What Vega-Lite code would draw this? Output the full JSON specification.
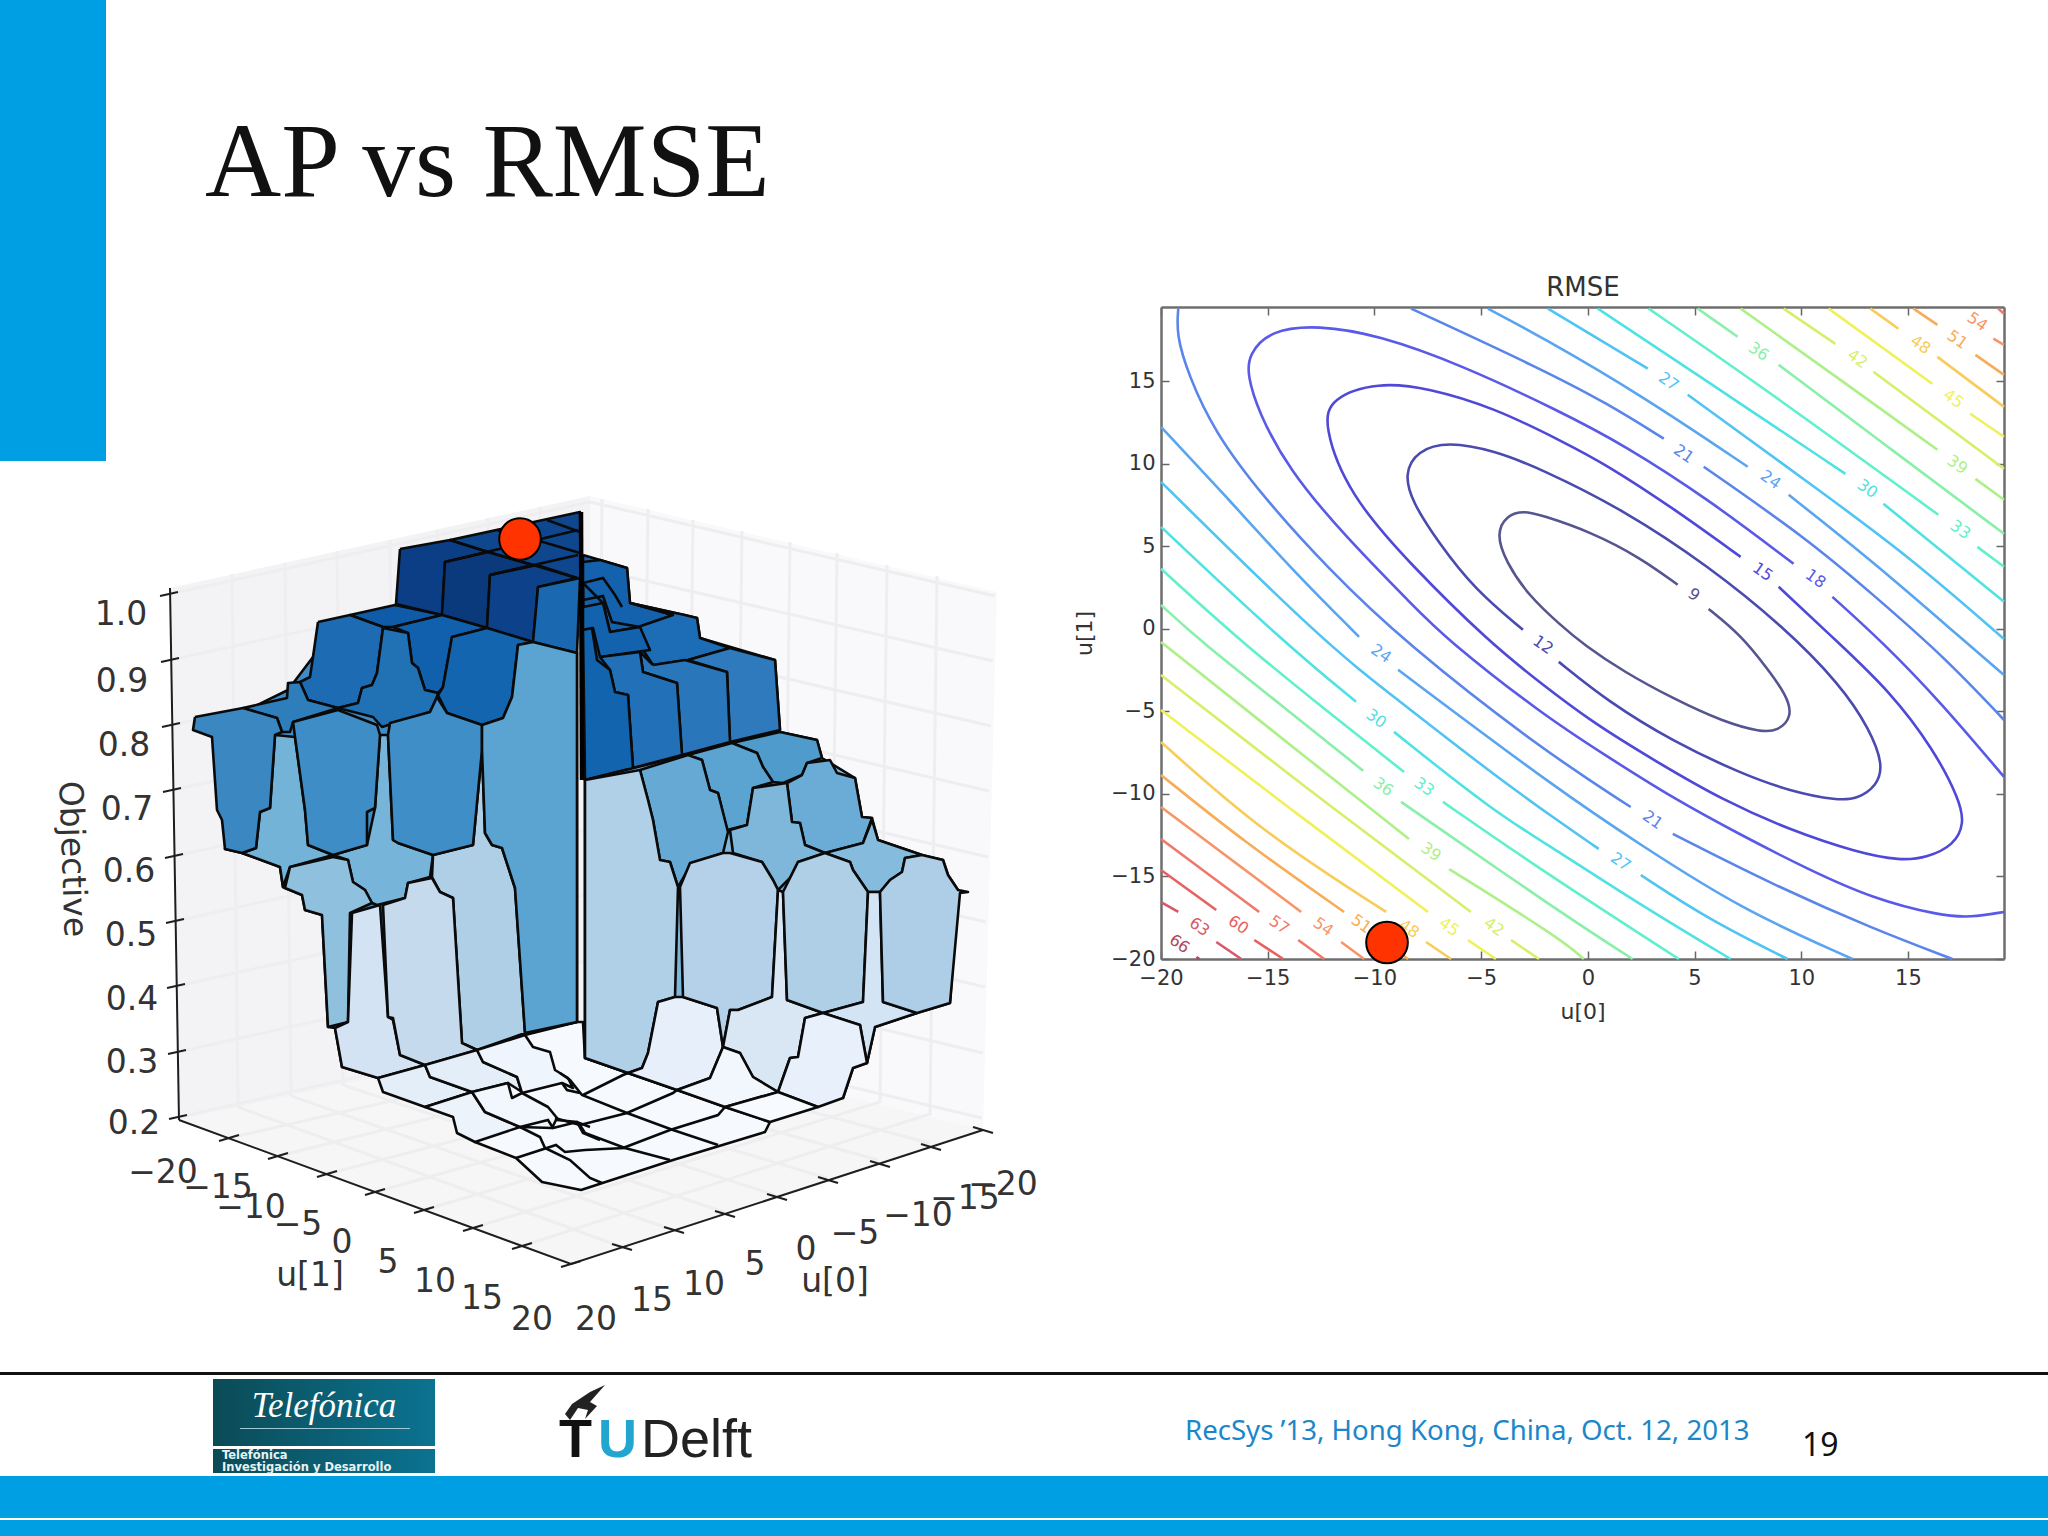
{"$schema":"https://vega.github.io/schema/vega-lite/v6.json","width":2048,"height":1536,"padding":0,"autosize":{"type":"none"},"background":"#ffffff","config":{"view":{"stroke":null},"font":"DejaVu Sans"},
"encoding":{"x":{"field":"x","type":"quantitative","scale":{"domain":[0,2048],"range":[0,2048]},"axis":null},"y":{"field":"y","type":"quantitative","scale":{"domain":[0,1536],"range":[0,1536]},"axis":null}},
"resolve":{"scale":{"x":"independent","y":"independent","color":"independent","fill":"independent"},"axis":{"x":"independent","y":"independent"}},
"layer":[
{"data":{"values":[{"x":0,"x2":106,"y":0,"y2":461},{"x":0,"x2":2048,"y":1476,"y2":1518},{"x":0,"x2":2048,"y":1520,"y2":1536}]},"mark":{"type":"rect","color":"#009ee2"},"encoding":{"x2":{"field":"x2"},"y2":{"field":"y2"}}},
{"data":{"values":[{"x":0,"x2":2048,"y":1372,"y2":1375}]},"mark":{"type":"rect","color":"#111111"},"encoding":{"x2":{"field":"x2"},"y2":{"field":"y2"}}},
{"data":{"values":[{"x":213,"x2":435,"y":1379,"y2":1446},{"x":213,"x2":435,"y":1449,"y2":1473}]},"mark":{"type":"rect","color":{"gradient":"linear","stops":[{"offset":0,"color":"#0b4b56"},{"offset":1,"color":"#0b7391"}]}},"encoding":{"x2":{"field":"x2"},"y2":{"field":"y2"}}},
{"data":{"values":[{"x":240,"x2":410,"y":1428,"y2":1429}]},"mark":{"type":"rect","color":"#9fc9d4"},"encoding":{"x2":{"field":"x2"},"y2":{"field":"y2"}}},
{"data":{"values":[{"t":"AP vs RMSE","x":205,"y":196}]},"mark":{"type":"text","font":"Liberation Serif","fontSize":105.5,"align":"left","baseline":"alphabetic","color":"#111111"},"encoding":{"text":{"field":"t"}}},
{"data":{"values":[{"t":"RecSys ’13, Hong Kong, China, Oct. 12, 2013","x":1185,"y":1440}]},"mark":{"type":"text","font":"Noto Sans","fontSize":27.6,"align":"left","baseline":"alphabetic","color":"#1b87c9"},"encoding":{"text":{"field":"t"}}},
{"data":{"values":[{"t":"19","x":1802,"y":1456}]},"mark":{"type":"text","font":"Noto Sans","fontSize":32,"align":"left","baseline":"alphabetic","color":"#111111"},"encoding":{"text":{"field":"t"}}},
{"data":{"values":[{"t":"Telefónica","x":324,"y":1417}]},"mark":{"type":"text","font":"Liberation Serif","fontSize":35,"fontStyle":"italic","align":"center","baseline":"alphabetic","color":"#ffffff"},"encoding":{"text":{"field":"t"}}},
{"data":{"values":[{"t":"Telefónica","x":222,"y":1459},{"t":"Investigación y Desarrollo","x":222,"y":1471}]},"mark":{"type":"text","font":"DejaVu Sans","fontWeight":"bold","fontSize":11.5,"align":"left","baseline":"alphabetic","color":"#e8f2f4"},"encoding":{"text":{"field":"t"}}},
{"data":{"values":[{"t":"T","x":559,"y":1457}]},"mark":{"type":"text","font":"Liberation Sans","fontWeight":"bold","fontSize":54,"align":"left","baseline":"alphabetic","color":"#111111"},"encoding":{"text":{"field":"t"}}},
{"data":{"values":[{"t":"U","x":598,"y":1457}]},"mark":{"type":"text","font":"Liberation Sans","fontWeight":"bold","fontSize":54,"align":"left","baseline":"alphabetic","color":"#22a5cf"},"encoding":{"text":{"field":"t"}}},
{"data":{"values":[{"t":"Delft","x":641,"y":1457}]},"mark":{"type":"text","font":"Liberation Sans","fontSize":54,"align":"left","baseline":"alphabetic","color":"#222222"},"encoding":{"text":{"field":"t"}}},
{"data":{"values":[
{"p":"flame","x":605,"y":1385},{"p":"flame","x":590,"y":1392},{"p":"flame","x":572,"y":1404},{"p":"flame","x":565,"y":1414},{"p":"flame","x":570,"y":1420},{"p":"flame","x":578,"y":1408},{"p":"flame","x":588,"y":1410},{"p":"flame","x":585,"y":1419},{"p":"flame","x":597,"y":1406},{"p":"flame","x":590,"y":1402},{"p":"flame","x":605,"y":1385},
{"p":"left","x":170,"y":588},{"p":"left","x":590,"y":496},{"p":"left","x":590,"y":1032},{"p":"left","x":180,"y":1120},{"p":"left","x":170,"y":588},
{"p":"right","x":590,"y":496},{"p":"right","x":997,"y":592},{"p":"right","x":983,"y":1130},{"p":"right","x":590,"y":1032},{"p":"right","x":590,"y":496},
{"p":"floor","x":180,"y":1120},{"p":"floor","x":590,"y":1032},{"p":"floor","x":983,"y":1130},{"p":"floor","x":571,"y":1264},{"p":"floor","x":180,"y":1120}]},
"mark":{"type":"line","strokeWidth":0,"stroke":"transparent"},"encoding":{"order":{"value":null},"fill":{"field":"p","type":"nominal","legend":null,"scale":{"domain":["flame","left","right","floor"],"range":["#222222","#f3f2f4","#f9f9fb","#f7f6f6"]}}}},
{"data":{"values":[
{"s":"z1","x":170,"y":594},{"s":"z1","x":590,"y":502},{"s":"z1","x":995,"y":596},
{"s":"z2","x":171,"y":660},{"s":"z2","x":590,"y":568},{"s":"z2","x":993,"y":661},
{"s":"z3","x":172,"y":725},{"s":"z3","x":590,"y":633},{"s":"z3","x":991,"y":726},
{"s":"z4","x":173,"y":790},{"s":"z4","x":590,"y":698},{"s":"z4","x":989,"y":791},
{"s":"z5","x":175,"y":856},{"s":"z5","x":590,"y":764},{"s":"z5","x":988,"y":857},
{"s":"z6","x":176,"y":921},{"s":"z6","x":590,"y":829},{"s":"z6","x":986,"y":922},
{"s":"z7","x":177,"y":986},{"s":"z7","x":590,"y":894},{"s":"z7","x":985,"y":987},
{"s":"z8","x":178,"y":1052},{"s":"z8","x":590,"y":960},{"s":"z8","x":983,"y":1053},
{"s":"z9","x":179,"y":1117},{"s":"z9","x":590,"y":1025},{"s":"z9","x":982,"y":1118},
{"s":"v1","x":232,"y":574},{"s":"v1","x":238,"y":1107},{"s":"v1","x":622,"y":1247},
{"s":"v2","x":285,"y":563},{"s":"v2","x":291,"y":1096},{"s":"v2","x":673,"y":1230},
{"s":"v3","x":337,"y":551},{"s":"v3","x":343,"y":1085},{"s":"v3","x":724,"y":1212},
{"s":"v4","x":390,"y":540},{"s":"v4","x":396,"y":1073},{"s":"v4","x":775,"y":1195},
{"s":"v5","x":437,"y":530},{"s":"v5","x":443,"y":1063},{"s":"v5","x":827,"y":1178},
{"s":"v6","x":488,"y":518},{"s":"v6","x":494,"y":1052},{"s":"v6","x":878,"y":1160},
{"s":"v7","x":540,"y":507},{"s":"v7","x":546,"y":1041},{"s":"v7","x":929,"y":1143},
{"s":"w0","x":602,"y":499},{"s":"w0","x":597,"y":1034},
{"s":"w1","x":648,"y":509},{"s":"w1","x":641,"y":1044},{"s":"w1","x":229,"y":1138},
{"s":"w2","x":693,"y":520},{"s":"w2","x":686,"y":1055},{"s":"w2","x":278,"y":1156},
{"s":"w3","x":742,"y":531},{"s":"w3","x":735,"y":1067},{"s":"w3","x":327,"y":1174},
{"s":"w4","x":790,"y":542},{"s":"w4","x":783,"y":1078},{"s":"w4","x":375,"y":1192},
{"s":"w5","x":837,"y":553},{"s":"w5","x":830,"y":1090},{"s":"w5","x":424,"y":1210},
{"s":"w6","x":887,"y":565},{"s":"w6","x":880,"y":1102},{"s":"w6","x":473,"y":1228},
{"s":"w7","x":937,"y":576},{"s":"w7","x":930,"y":1114},{"s":"w7","x":522,"y":1246}]},
"mark":{"type":"line","color":"#eeeef0","strokeWidth":3},"encoding":{"order":{"value":null},"detail":{"field":"s"}}},
{"data":{"values":[
{"s":"a","x":170,"y":588},{"s":"a","x":179,"y":1120},{"s":"b","x":179,"y":1120},{"s":"b","x":571,"y":1264},{"s":"b","x":983,"y":1130},
{"s":"t1","x":160,"y":596},{"s":"t1","x":178,"y":592},{"s":"t2","x":161,"y":662},{"s":"t2","x":179,"y":658},{"s":"t3","x":162,"y":727},{"s":"t3","x":180,"y":723},{"s":"t4","x":163,"y":792},{"s":"t4","x":181,"y":788},{"s":"t5","x":165,"y":858},{"s":"t5","x":183,"y":854},{"s":"t6","x":166,"y":923},{"s":"t6","x":184,"y":919},{"s":"t7","x":167,"y":988},{"s":"t7","x":185,"y":984},{"s":"t8","x":168,"y":1054},{"s":"t8","x":186,"y":1050},{"s":"t9","x":169,"y":1119},{"s":"t9","x":187,"y":1115},
{"s":"l1","x":219,"y":1141},{"s":"l1","x":239,"y":1135},{"s":"l2","x":268,"y":1159},{"s":"l2","x":288,"y":1153},{"s":"l3","x":317,"y":1177},{"s":"l3","x":337,"y":1171},{"s":"l4","x":365,"y":1195},{"s":"l4","x":385,"y":1189},{"s":"l5","x":414,"y":1213},{"s":"l5","x":434,"y":1207},{"s":"l6","x":463,"y":1231},{"s":"l6","x":483,"y":1225},{"s":"l7","x":512,"y":1249},{"s":"l7","x":532,"y":1243},{"s":"l8","x":561,"y":1267},{"s":"l8","x":581,"y":1261},
{"s":"r1","x":612,"y":1244},{"s":"r1","x":632,"y":1250},{"s":"r2","x":664,"y":1227},{"s":"r2","x":684,"y":1233},{"s":"r3","x":715,"y":1211},{"s":"r3","x":735,"y":1217},{"s":"r4","x":767,"y":1194},{"s":"r4","x":787,"y":1200},{"s":"r5","x":818,"y":1177},{"s":"r5","x":838,"y":1183},{"s":"r6","x":870,"y":1161},{"s":"r6","x":890,"y":1167},{"s":"r7","x":921,"y":1144},{"s":"r7","x":941,"y":1150},{"s":"r8","x":973,"y":1127},{"s":"r8","x":993,"y":1133}]},
"mark":{"type":"line","color":"#1e1e1e","strokeWidth":2},"encoding":{"order":{"value":null},"detail":{"field":"s"}}},
{"data":{"values":[
{"p":"B1","x":583,"y":555},{"p":"B1","x":600,"y":560},{"p":"B1","x":627,"y":568},{"p":"B1","x":630,"y":603},{"p":"B1","x":697,"y":618},{"p":"B1","x":700,"y":638},{"p":"B1","x":775,"y":660},{"p":"B1","x":780,"y":730},{"p":"B1","x":585,"y":780},{"p":"B1","x":583,"y":555},
{"p":"S1","x":583,"y":562},{"p":"S1","x":600,"y":560},{"p":"S1","x":627,"y":568},{"p":"S1","x":630,"y":603},{"p":"S1","x":673,"y":615},{"p":"S1","x":640,"y":627},{"p":"S1","x":610,"y":632},{"p":"S1","x":603,"y":603},{"p":"S1","x":583,"y":583},{"p":"S1","x":583,"y":562},
{"p":"S6","x":630,"y":603},{"p":"S6","x":685,"y":615},{"p":"S6","x":697,"y":618},{"p":"S6","x":700,"y":638},{"p":"S6","x":730,"y":648},{"p":"S6","x":688,"y":660},{"p":"S6","x":653,"y":665},{"p":"S6","x":643,"y":650},{"p":"S6","x":638,"y":627},{"p":"S6","x":673,"y":615},{"p":"S6","x":630,"y":603},
{"p":"S7","x":583,"y":607},{"p":"S7","x":603,"y":603},{"p":"S7","x":610,"y":632},{"p":"S7","x":640,"y":627},{"p":"S7","x":650,"y":650},{"p":"S7","x":600,"y":657},{"p":"S7","x":593,"y":628},{"p":"S7","x":583,"y":630},{"p":"S7","x":583,"y":607},
{"p":"F4","x":688,"y":660},{"p":"F4","x":730,"y":648},{"p":"F4","x":775,"y":660},{"p":"F4","x":780,"y":730},{"p":"F4","x":730,"y":742},{"p":"F4","x":727,"y":672},{"p":"F4","x":688,"y":660},
{"p":"F3","x":653,"y":665},{"p":"F3","x":685,"y":660},{"p":"F3","x":727,"y":672},{"p":"F3","x":730,"y":742},{"p":"F3","x":682,"y":755},{"p":"F3","x":677,"y":683},{"p":"F3","x":643,"y":672},{"p":"F3","x":640,"y":652},{"p":"F3","x":653,"y":665},
{"p":"F2","x":600,"y":657},{"p":"F2","x":640,"y":652},{"p":"F2","x":643,"y":672},{"p":"F2","x":677,"y":683},{"p":"F2","x":682,"y":755},{"p":"F2","x":633,"y":768},{"p":"F2","x":628,"y":695},{"p":"F2","x":615,"y":692},{"p":"F2","x":610,"y":670},{"p":"F2","x":600,"y":657},
{"p":"F1","x":583,"y":630},{"p":"F1","x":592,"y":628},{"p":"F1","x":597,"y":660},{"p":"F1","x":610,"y":670},{"p":"F1","x":615,"y":692},{"p":"F1","x":628,"y":695},{"p":"F1","x":633,"y":768},{"p":"F1","x":585,"y":780},{"p":"F1","x":583,"y":630},
{"p":"G1","x":525,"y":1035},{"p":"G1","x":577,"y":1022},{"p":"G1","x":583,"y":1022},{"p":"G1","x":585,"y":1058},{"p":"G1","x":628,"y":1073},{"p":"G1","x":677,"y":1090},{"p":"G1","x":725,"y":1107},{"p":"G1","x":770,"y":1122},{"p":"G1","x":765,"y":1132},{"p":"G1","x":673,"y":1160},{"p":"G1","x":581,"y":1190},{"p":"G1","x":542,"y":1182},{"p":"G1","x":516,"y":1158},{"p":"G1","x":475,"y":1142},{"p":"G1","x":525,"y":1035},
{"p":"B2","x":585,"y":780},{"p":"B2","x":780,"y":732},{"p":"B2","x":817,"y":740},{"p":"B2","x":822,"y":758},{"p":"B2","x":855,"y":778},{"p":"B2","x":862,"y":817},{"p":"B2","x":872,"y":818},{"p":"B2","x":878,"y":840},{"p":"B2","x":922,"y":855},{"p":"B2","x":943,"y":860},{"p":"B2","x":948,"y":875},{"p":"B2","x":958,"y":890},{"p":"B2","x":950,"y":1003},{"p":"B2","x":917,"y":1013},{"p":"B2","x":875,"y":1027},{"p":"B2","x":867,"y":1063},{"p":"B2","x":853,"y":1068},{"p":"B2","x":843,"y":1098},{"p":"B2","x":778,"y":1092},{"p":"B2","x":677,"y":1090},{"p":"B2","x":585,"y":1058},{"p":"B2","x":585,"y":780},
{"p":"Q4","x":732,"y":743},{"p":"Q4","x":780,"y":732},{"p":"Q4","x":817,"y":740},{"p":"Q4","x":822,"y":758},{"p":"Q4","x":807,"y":763},{"p":"Q4","x":802,"y":775},{"p":"Q4","x":783,"y":783},{"p":"Q4","x":773,"y":782},{"p":"Q4","x":763,"y":767},{"p":"Q4","x":757,"y":753},{"p":"Q4","x":732,"y":743},
{"p":"Q3","x":688,"y":755},{"p":"Q3","x":732,"y":743},{"p":"Q3","x":757,"y":753},{"p":"Q3","x":763,"y":767},{"p":"Q3","x":773,"y":782},{"p":"Q3","x":753,"y":788},{"p":"Q3","x":747,"y":825},{"p":"Q3","x":727,"y":830},{"p":"Q3","x":718,"y":793},{"p":"Q3","x":710,"y":790},{"p":"Q3","x":702,"y":760},{"p":"Q3","x":688,"y":755},
{"p":"Q5","x":787,"y":783},{"p":"Q5","x":802,"y":775},{"p":"Q5","x":807,"y":763},{"p":"Q5","x":830,"y":760},{"p":"Q5","x":837,"y":773},{"p":"Q5","x":855,"y":778},{"p":"Q5","x":862,"y":817},{"p":"Q5","x":872,"y":818},{"p":"Q5","x":863,"y":843},{"p":"Q5","x":825,"y":853},{"p":"Q5","x":805,"y":845},{"p":"Q5","x":800,"y":823},{"p":"Q5","x":792,"y":822},{"p":"Q5","x":787,"y":783},
{"p":"Q6","x":730,"y":830},{"p":"Q6","x":747,"y":825},{"p":"Q6","x":753,"y":788},{"p":"Q6","x":787,"y":783},{"p":"Q6","x":792,"y":822},{"p":"Q6","x":800,"y":823},{"p":"Q6","x":805,"y":845},{"p":"Q6","x":825,"y":853},{"p":"Q6","x":798,"y":862},{"p":"Q6","x":790,"y":878},{"p":"Q6","x":778,"y":890},{"p":"Q6","x":773,"y":880},{"p":"Q6","x":762,"y":862},{"p":"Q6","x":733,"y":853},{"p":"Q6","x":730,"y":830},
{"p":"Q7","x":825,"y":853},{"p":"Q7","x":863,"y":843},{"p":"Q7","x":872,"y":820},{"p":"Q7","x":878,"y":840},{"p":"Q7","x":922,"y":855},{"p":"Q7","x":905,"y":858},{"p":"Q7","x":902,"y":872},{"p":"Q7","x":890,"y":880},{"p":"Q7","x":880,"y":892},{"p":"Q7","x":868,"y":892},{"p":"Q7","x":853,"y":870},{"p":"Q7","x":850,"y":862},{"p":"Q7","x":825,"y":853},
{"p":"Q2","x":640,"y":770},{"p":"Q2","x":688,"y":755},{"p":"Q2","x":702,"y":760},{"p":"Q2","x":710,"y":790},{"p":"Q2","x":718,"y":793},{"p":"Q2","x":728,"y":832},{"p":"Q2","x":723,"y":853},{"p":"Q2","x":692,"y":863},{"p":"Q2","x":678,"y":887},{"p":"Q2","x":670,"y":862},{"p":"Q2","x":660,"y":860},{"p":"Q2","x":653,"y":820},{"p":"Q2","x":648,"y":800},{"p":"Q2","x":640,"y":770},
{"p":"Q1","x":585,"y":780},{"p":"Q1","x":640,"y":770},{"p":"Q1","x":648,"y":800},{"p":"Q1","x":653,"y":820},{"p":"Q1","x":660,"y":860},{"p":"Q1","x":670,"y":862},{"p":"Q1","x":678,"y":887},{"p":"Q1","x":675,"y":997},{"p":"Q1","x":658,"y":1002},{"p":"Q1","x":648,"y":1053},{"p":"Q1","x":642,"y":1068},{"p":"Q1","x":628,"y":1073},{"p":"Q1","x":585,"y":1058},{"p":"Q1","x":585,"y":780},
{"p":"Q14","x":658,"y":1002},{"p":"Q14","x":675,"y":997},{"p":"Q14","x":683,"y":997},{"p":"Q14","x":717,"y":1008},{"p":"Q14","x":723,"y":1047},{"p":"Q14","x":710,"y":1078},{"p":"Q14","x":677,"y":1090},{"p":"Q14","x":628,"y":1073},{"p":"Q14","x":642,"y":1068},{"p":"Q14","x":648,"y":1053},{"p":"Q14","x":658,"y":1002},
{"p":"Q8","x":680,"y":887},{"p":"Q8","x":690,"y":863},{"p":"Q8","x":723,"y":853},{"p":"Q8","x":730,"y":853},{"p":"Q8","x":762,"y":862},{"p":"Q8","x":773,"y":880},{"p":"Q8","x":778,"y":890},{"p":"Q8","x":772,"y":997},{"p":"Q8","x":738,"y":1010},{"p":"Q8","x":730,"y":1010},{"p":"Q8","x":723,"y":1047},{"p":"Q8","x":717,"y":1008},{"p":"Q8","x":683,"y":997},{"p":"Q8","x":680,"y":887},
{"p":"Q11","x":778,"y":890},{"p":"Q11","x":783,"y":892},{"p":"Q11","x":787,"y":1000},{"p":"Q11","x":823,"y":1013},{"p":"Q11","x":805,"y":1018},{"p":"Q11","x":798,"y":1057},{"p":"Q11","x":790,"y":1058},{"p":"Q11","x":778,"y":1092},{"p":"Q11","x":753,"y":1077},{"p":"Q11","x":740,"y":1053},{"p":"Q11","x":723,"y":1047},{"p":"Q11","x":730,"y":1010},{"p":"Q11","x":738,"y":1010},{"p":"Q11","x":772,"y":997},{"p":"Q11","x":778,"y":890},
{"p":"Q9","x":783,"y":892},{"p":"Q9","x":790,"y":878},{"p":"Q9","x":798,"y":862},{"p":"Q9","x":825,"y":853},{"p":"Q9","x":850,"y":862},{"p":"Q9","x":853,"y":870},{"p":"Q9","x":868,"y":892},{"p":"Q9","x":863,"y":1002},{"p":"Q9","x":823,"y":1013},{"p":"Q9","x":787,"y":1000},{"p":"Q9","x":783,"y":892},
{"p":"Q12","x":868,"y":892},{"p":"Q12","x":880,"y":892},{"p":"Q12","x":883,"y":1002},{"p":"Q12","x":917,"y":1013},{"p":"Q12","x":875,"y":1027},{"p":"Q12","x":867,"y":1063},{"p":"Q12","x":860,"y":1025},{"p":"Q12","x":823,"y":1013},{"p":"Q12","x":863,"y":1002},{"p":"Q12","x":868,"y":892},
{"p":"Q10","x":880,"y":892},{"p":"Q10","x":890,"y":880},{"p":"Q10","x":902,"y":872},{"p":"Q10","x":905,"y":858},{"p":"Q10","x":922,"y":855},{"p":"Q10","x":943,"y":860},{"p":"Q10","x":948,"y":875},{"p":"Q10","x":958,"y":890},{"p":"Q10","x":968,"y":892},{"p":"Q10","x":960,"y":893},{"p":"Q10","x":950,"y":1003},{"p":"Q10","x":917,"y":1013},{"p":"Q10","x":883,"y":1002},{"p":"Q10","x":880,"y":892},
{"p":"Q13","x":805,"y":1018},{"p":"Q13","x":823,"y":1013},{"p":"Q13","x":860,"y":1025},{"p":"Q13","x":867,"y":1063},{"p":"Q13","x":853,"y":1068},{"p":"Q13","x":843,"y":1098},{"p":"Q13","x":818,"y":1107},{"p":"Q13","x":778,"y":1092},{"p":"Q13","x":790,"y":1058},{"p":"Q13","x":798,"y":1057},{"p":"Q13","x":805,"y":1018},
{"p":"Q15","x":723,"y":1047},{"p":"Q15","x":740,"y":1053},{"p":"Q15","x":753,"y":1077},{"p":"Q15","x":778,"y":1092},{"p":"Q15","x":725,"y":1107},{"p":"Q15","x":677,"y":1090},{"p":"Q15","x":710,"y":1078},{"p":"Q15","x":723,"y":1047},
{"p":"Q16","x":725,"y":1107},{"p":"Q16","x":778,"y":1092},{"p":"Q16","x":818,"y":1107},{"p":"Q16","x":770,"y":1122},{"p":"Q16","x":725,"y":1107},
{"p":"B3","x":318,"y":640},{"p":"B3","x":442,"y":615},{"p":"B3","x":533,"y":642},{"p":"B3","x":577,"y":653},{"p":"B3","x":577,"y":1022},{"p":"B3","x":525,"y":1033},{"p":"B3","x":477,"y":1050},{"p":"B3","x":378,"y":1078},{"p":"B3","x":342,"y":1067},{"p":"B3","x":335,"y":1028},{"p":"B3","x":328,"y":1027},{"p":"B3","x":322,"y":915},{"p":"B3","x":305,"y":910},{"p":"B3","x":302,"y":895},{"p":"B3","x":285,"y":888},{"p":"B3","x":283,"y":887},{"p":"B3","x":280,"y":867},{"p":"B3","x":242,"y":853},{"p":"B3","x":225,"y":849},{"p":"B3","x":243,"y":712},{"p":"B3","x":288,"y":690},{"p":"B3","x":313,"y":657},{"p":"B3","x":318,"y":640},
{"p":"T","x":450,"y":540},{"p":"T","x":580,"y":512},{"p":"T","x":582,"y":578},{"p":"T","x":538,"y":587},{"p":"T","x":490,"y":575},{"p":"T","x":445,"y":562},{"p":"T","x":450,"y":540},
{"p":"A1","x":400,"y":549},{"p":"A1","x":450,"y":540},{"p":"A1","x":488,"y":552},{"p":"A1","x":445,"y":562},{"p":"A1","x":442,"y":615},{"p":"A1","x":396,"y":604},{"p":"A1","x":400,"y":549},
{"p":"A2","x":445,"y":562},{"p":"A2","x":488,"y":552},{"p":"A2","x":533,"y":565},{"p":"A2","x":490,"y":575},{"p":"A2","x":487,"y":628},{"p":"A2","x":442,"y":615},{"p":"A2","x":445,"y":562},
{"p":"A3","x":490,"y":575},{"p":"A3","x":537,"y":565},{"p":"A3","x":577,"y":578},{"p":"A3","x":538,"y":587},{"p":"A3","x":533,"y":642},{"p":"A3","x":487,"y":628},{"p":"A3","x":490,"y":575},
{"p":"A4","x":538,"y":587},{"p":"A4","x":580,"y":578},{"p":"A4","x":577,"y":653},{"p":"A4","x":533,"y":642},{"p":"A4","x":538,"y":587},
{"p":"P7","x":350,"y":615},{"p":"P7","x":395,"y":605},{"p":"P7","x":442,"y":615},{"p":"P7","x":393,"y":627},{"p":"P7","x":383,"y":627},{"p":"P7","x":350,"y":615},
{"p":"P8","x":393,"y":627},{"p":"P8","x":442,"y":615},{"p":"P8","x":487,"y":628},{"p":"P8","x":452,"y":637},{"p":"P8","x":443,"y":687},{"p":"P8","x":438,"y":693},{"p":"P8","x":425,"y":690},{"p":"P8","x":418,"y":668},{"p":"P8","x":412,"y":663},{"p":"P8","x":408,"y":633},{"p":"P8","x":393,"y":627},
{"p":"P6","x":318,"y":622},{"p":"P6","x":350,"y":615},{"p":"P6","x":383,"y":627},{"p":"P6","x":383,"y":628},{"p":"P6","x":377,"y":673},{"p":"P6","x":372,"y":685},{"p":"P6","x":362,"y":688},{"p":"P6","x":358,"y":703},{"p":"P6","x":338,"y":708},{"p":"P6","x":308,"y":700},{"p":"P6","x":300,"y":682},{"p":"P6","x":310,"y":677},{"p":"P6","x":313,"y":657},{"p":"P6","x":318,"y":622},
{"p":"P10","x":383,"y":628},{"p":"P10","x":408,"y":633},{"p":"P10","x":412,"y":663},{"p":"P10","x":418,"y":668},{"p":"P10","x":425,"y":690},{"p":"P10","x":438,"y":693},{"p":"P10","x":437,"y":697},{"p":"P10","x":430,"y":712},{"p":"P10","x":382,"y":727},{"p":"P10","x":373,"y":717},{"p":"P10","x":338,"y":708},{"p":"P10","x":358,"y":703},{"p":"P10","x":362,"y":688},{"p":"P10","x":372,"y":685},{"p":"P10","x":377,"y":673},{"p":"P10","x":383,"y":628},
{"p":"P9","x":452,"y":637},{"p":"P9","x":487,"y":628},{"p":"P9","x":533,"y":642},{"p":"P9","x":518,"y":645},{"p":"P9","x":512,"y":697},{"p":"P9","x":503,"y":718},{"p":"P9","x":482,"y":725},{"p":"P9","x":447,"y":713},{"p":"P9","x":438,"y":695},{"p":"P9","x":443,"y":687},{"p":"P9","x":452,"y":637},
{"p":"P11","x":243,"y":708},{"p":"P11","x":287,"y":698},{"p":"P11","x":288,"y":683},{"p":"P11","x":300,"y":682},{"p":"P11","x":308,"y":700},{"p":"P11","x":338,"y":708},{"p":"P11","x":293,"y":722},{"p":"P11","x":290,"y":732},{"p":"P11","x":282,"y":732},{"p":"P11","x":277,"y":718},{"p":"P11","x":243,"y":708},
{"p":"L1","x":275,"y":735},{"p":"L1","x":295,"y":737},{"p":"L1","x":305,"y":810},{"p":"L1","x":308,"y":845},{"p":"L1","x":333,"y":855},{"p":"L1","x":290,"y":867},{"p":"L1","x":283,"y":887},{"p":"L1","x":280,"y":867},{"p":"L1","x":242,"y":853},{"p":"L1","x":256,"y":848},{"p":"L1","x":260,"y":812},{"p":"L1","x":270,"y":808},{"p":"L1","x":275,"y":735},
{"p":"L2","x":380,"y":735},{"p":"L2","x":388,"y":735},{"p":"L2","x":393,"y":840},{"p":"L2","x":398,"y":843},{"p":"L2","x":433,"y":855},{"p":"L2","x":430,"y":877},{"p":"L2","x":408,"y":883},{"p":"L2","x":405,"y":898},{"p":"L2","x":377,"y":905},{"p":"L2","x":372,"y":903},{"p":"L2","x":365,"y":890},{"p":"L2","x":353,"y":882},{"p":"L2","x":348,"y":860},{"p":"L2","x":333,"y":855},{"p":"L2","x":367,"y":845},{"p":"L2","x":375,"y":808},{"p":"L2","x":380,"y":735},
{"p":"P16","x":482,"y":750},{"p":"P16","x":485,"y":833},{"p":"P16","x":492,"y":845},{"p":"P16","x":502,"y":848},{"p":"P16","x":515,"y":888},{"p":"P16","x":525,"y":1033},{"p":"P16","x":477,"y":1050},{"p":"P16","x":462,"y":1043},{"p":"P16","x":453,"y":898},{"p":"P16","x":440,"y":892},{"p":"P16","x":432,"y":877},{"p":"P16","x":433,"y":855},{"p":"P16","x":473,"y":845},{"p":"P16","x":482,"y":750},
{"p":"P17","x":290,"y":867},{"p":"P17","x":333,"y":857},{"p":"P17","x":348,"y":860},{"p":"P17","x":353,"y":882},{"p":"P17","x":365,"y":890},{"p":"P17","x":372,"y":903},{"p":"P17","x":350,"y":913},{"p":"P17","x":348,"y":1022},{"p":"P17","x":328,"y":1027},{"p":"P17","x":322,"y":915},{"p":"P17","x":305,"y":910},{"p":"P17","x":302,"y":895},{"p":"P17","x":285,"y":888},{"p":"P17","x":290,"y":867},
{"p":"P18","x":352,"y":913},{"p":"P18","x":380,"y":905},{"p":"P18","x":388,"y":1017},{"p":"P18","x":393,"y":1020},{"p":"P18","x":400,"y":1055},{"p":"P18","x":425,"y":1065},{"p":"P18","x":378,"y":1078},{"p":"P18","x":342,"y":1067},{"p":"P18","x":335,"y":1028},{"p":"P18","x":348,"y":1022},{"p":"P18","x":352,"y":913},
{"p":"P19","x":383,"y":905},{"p":"P19","x":405,"y":898},{"p":"P19","x":408,"y":883},{"p":"P19","x":432,"y":878},{"p":"P19","x":440,"y":892},{"p":"P19","x":453,"y":898},{"p":"P19","x":462,"y":1043},{"p":"P19","x":477,"y":1050},{"p":"P19","x":425,"y":1065},{"p":"P19","x":400,"y":1055},{"p":"P19","x":393,"y":1018},{"p":"P19","x":388,"y":1017},{"p":"P19","x":383,"y":905},
{"p":"P12","x":195,"y":717},{"p":"P12","x":243,"y":708},{"p":"P12","x":277,"y":718},{"p":"P12","x":282,"y":732},{"p":"P12","x":275,"y":735},{"p":"P12","x":270,"y":808},{"p":"P12","x":260,"y":812},{"p":"P12","x":256,"y":848},{"p":"P12","x":242,"y":853},{"p":"P12","x":225,"y":849},{"p":"P12","x":222,"y":820},{"p":"P12","x":217,"y":810},{"p":"P12","x":212,"y":737},{"p":"P12","x":193,"y":730},{"p":"P12","x":195,"y":717},
{"p":"P13","x":293,"y":722},{"p":"P13","x":338,"y":710},{"p":"P13","x":377,"y":725},{"p":"P13","x":380,"y":735},{"p":"P13","x":375,"y":808},{"p":"P13","x":367,"y":812},{"p":"P13","x":367,"y":845},{"p":"P13","x":333,"y":855},{"p":"P13","x":308,"y":845},{"p":"P13","x":305,"y":810},{"p":"P13","x":295,"y":737},{"p":"P13","x":293,"y":722},
{"p":"P14","x":388,"y":735},{"p":"P14","x":390,"y":723},{"p":"P14","x":430,"y":712},{"p":"P14","x":437,"y":697},{"p":"P14","x":447,"y":713},{"p":"P14","x":482,"y":725},{"p":"P14","x":482,"y":750},{"p":"P14","x":473,"y":845},{"p":"P14","x":433,"y":855},{"p":"P14","x":398,"y":843},{"p":"P14","x":393,"y":840},{"p":"P14","x":388,"y":735},
{"p":"P15","x":482,"y":725},{"p":"P15","x":503,"y":718},{"p":"P15","x":512,"y":697},{"p":"P15","x":518,"y":645},{"p":"P15","x":533,"y":642},{"p":"P15","x":577,"y":653},{"p":"P15","x":577,"y":1022},{"p":"P15","x":525,"y":1033},{"p":"P15","x":515,"y":888},{"p":"P15","x":502,"y":848},{"p":"P15","x":492,"y":845},{"p":"P15","x":485,"y":833},{"p":"P15","x":482,"y":750},{"p":"P15","x":482,"y":725},
{"p":"P20","x":378,"y":1078},{"p":"P20","x":425,"y":1065},{"p":"P20","x":430,"y":1077},{"p":"P20","x":472,"y":1092},{"p":"P20","x":425,"y":1107},{"p":"P20","x":383,"y":1092},{"p":"P20","x":378,"y":1078},
{"p":"P21","x":425,"y":1065},{"p":"P21","x":477,"y":1050},{"p":"P21","x":483,"y":1062},{"p":"P21","x":517,"y":1077},{"p":"P21","x":522,"y":1092},{"p":"P21","x":508,"y":1083},{"p":"P21","x":472,"y":1092},{"p":"P21","x":430,"y":1077},{"p":"P21","x":425,"y":1065},
{"p":"P22","x":477,"y":1050},{"p":"P22","x":525,"y":1035},{"p":"P22","x":533,"y":1047},{"p":"P22","x":550,"y":1052},{"p":"P22","x":555,"y":1070},{"p":"P22","x":568,"y":1078},{"p":"P22","x":573,"y":1088},{"p":"P22","x":562,"y":1083},{"p":"P22","x":522,"y":1093},{"p":"P22","x":517,"y":1077},{"p":"P22","x":483,"y":1062},{"p":"P22","x":477,"y":1050},
{"p":"P23","x":425,"y":1107},{"p":"P23","x":472,"y":1092},{"p":"P23","x":485,"y":1112},{"p":"P23","x":520,"y":1127},{"p":"P23","x":475,"y":1142},{"p":"P23","x":457,"y":1133},{"p":"P23","x":453,"y":1117},{"p":"P23","x":425,"y":1107},
{"p":"P24","x":472,"y":1092},{"p":"P24","x":508,"y":1083},{"p":"P24","x":512,"y":1098},{"p":"P24","x":522,"y":1093},{"p":"P24","x":548,"y":1107},{"p":"P24","x":557,"y":1118},{"p":"P24","x":552,"y":1128},{"p":"P24","x":520,"y":1127},{"p":"P24","x":485,"y":1112},{"p":"P24","x":472,"y":1092}]},
"mark":{"type":"line","stroke":"#0a0a0a","strokeWidth":2.6,"strokeJoin":"round"},"encoding":{"order":{"value":null},"fill":{"field":"p","type":"nominal","legend":null,"scale":{
"domain":["B1","S1","S6","S7","F4","F3","F2","F1","G1","B2","Q4","Q3","Q5","Q6","Q7","Q2","Q1","Q14","Q8","Q11","Q9","Q12","Q10","Q13","Q15","Q16","B3","T","A1","A2","A3","A4","P7","P8","P6","P10","P9","P11","L1","L2","P16","P17","P18","P19","P12","P13","P14","P15","P20","P21","P22","P23","P24"],
"range":["#1462ad","#1462ad","#1c6db5","#1362ae","#2e7abc","#2a76ba","#2271b8","#1264ae","#f6faff","#7fb7db","#4f9bcb","#5ba3d0","#6aacd5","#7fb7db","#85bbdd","#65a9d4","#afd0e6","#e7f0fa","#b4d1e9","#d9e7f5","#afcfe7","#d3e4f4","#adcee6","#e8f1fb","#f1f7fd","#f7fafe","#3f8dc6","#0f478f","#0c3e85","#0a3a7c","#0d4189","#1a68b0","#0f5ba8","#1060ae","#1c6bb3","#2171b5","#1465b0","#2e7ebc","#74b3d8","#77b4da","#aecfe6","#8fc1de","#d3e3f3","#c6daee","#3a87c2","#3f8dc6","#408ec7","#5ba3d0","#e3eef9","#e3eef9","#eef5fc","#edf3fb","#f2f7fd"]}}}},
{"data":{"values":[
{"s":"tl1","x":450,"y":540},{"s":"tl1","x":488,"y":552},{"s":"tl1","x":533,"y":565},{"s":"tl1","x":577,"y":578},
{"s":"tl2","x":497,"y":530},{"s":"tl2","x":543,"y":542},{"s":"tl2","x":580,"y":553},
{"s":"tl3","x":547,"y":520},{"s":"tl3","x":580,"y":532},
{"s":"tl4","x":445,"y":562},{"s":"tl4","x":578,"y":530},
{"s":"tl5","x":490,"y":575},{"s":"tl5","x":578,"y":555},
{"s":"c1","x":583,"y":583},{"s":"c1","x":603,"y":578},{"s":"c1","x":615,"y":595},{"s":"c1","x":622,"y":607},
{"s":"c2","x":583,"y":600},{"s":"c2","x":603,"y":596},{"s":"c2","x":612,"y":622},{"s":"c2","x":640,"y":627},
{"s":"le1","x":560,"y":1073},{"s":"le1","x":570,"y":1080},{"s":"le1","x":582,"y":1095},{"s":"le1","x":627,"y":1113},{"s":"le1","x":673,"y":1130},{"s":"le1","x":718,"y":1145},
{"s":"le2","x":555,"y":1118},{"s":"le2","x":580,"y":1125},{"s":"le2","x":585,"y":1133},{"s":"le2","x":625,"y":1148},{"s":"le2","x":670,"y":1160},
{"s":"lu1","x":583,"y":1095},{"s":"lu1","x":623,"y":1075},{"s":"lu1","x":628,"y":1073},
{"s":"lu2","x":580,"y":1125},{"s":"lu2","x":627,"y":1113},{"s":"lu2","x":673,"y":1093},{"s":"lu2","x":677,"y":1090},
{"s":"lu3","x":623,"y":1148},{"s":"lu3","x":670,"y":1130},{"s":"lu3","x":718,"y":1115},{"s":"lu3","x":725,"y":1107},
{"s":"m1","x":562,"y":1083},{"s":"m1","x":567,"y":1090},{"s":"m1","x":580,"y":1093},
{"s":"m2","x":520,"y":1127},{"s":"m2","x":548,"y":1120},{"s":"m2","x":553,"y":1128},{"s":"m2","x":577,"y":1122},{"s":"m2","x":590,"y":1127},
{"s":"m3","x":557,"y":1120},{"s":"m3","x":577,"y":1122},{"s":"m3","x":583,"y":1133},{"s":"m3","x":600,"y":1140},
{"s":"m4","x":520,"y":1127},{"s":"m4","x":540,"y":1137},{"s":"m4","x":545,"y":1148},{"s":"m4","x":570,"y":1160},{"s":"m4","x":590,"y":1178},{"s":"m4","x":602,"y":1183},
{"s":"m5","x":516,"y":1158},{"s":"m5","x":556,"y":1145},{"s":"m5","x":565,"y":1152},{"s":"m5","x":585,"y":1150},{"s":"m5","x":625,"y":1148}]},
"mark":{"type":"line","color":"#0a0a0a","strokeWidth":2.6},"encoding":{"order":{"value":null},"detail":{"field":"s"}}},
{"data":{"values":[{"s":"k1","x":581,"y":512},{"s":"k1","x":582,"y":780}]},"mark":{"type":"line","color":"#000000","strokeWidth":4.5},"encoding":{"order":{"value":null},"detail":{"field":"s"}}},
{"data":{"values":[{"t":"−20","x":163,"y":1173},{"t":"−15","x":218,"y":1188},{"t":"−10","x":251,"y":1208},{"t":"−5","x":298,"y":1225},{"t":"0","x":342,"y":1243},{"t":"5","x":388,"y":1263},{"t":"10","x":435,"y":1282},{"t":"15","x":482,"y":1299},{"t":"20","x":532,"y":1320},{"t":"u[1]","x":310,"y":1276},{"t":"20","x":596,"y":1320},{"t":"15","x":652,"y":1301},{"t":"10","x":704,"y":1285},{"t":"5","x":755,"y":1265},{"t":"0","x":806,"y":1250},{"t":"−5","x":855,"y":1234},{"t":"−10","x":918,"y":1216},{"t":"−15","x":965,"y":1199},{"t":"−20","x":1003,"y":1185},{"t":"u[0]","x":835,"y":1282},{"t":"1.0","x":121,"y":615},{"t":"0.9","x":122,"y":682},{"t":"0.8","x":124,"y":746},{"t":"0.7","x":127,"y":810},{"t":"0.6","x":129,"y":872},{"t":"0.5","x":131,"y":936},{"t":"0.4","x":132,"y":1000},{"t":"0.3","x":132,"y":1063},{"t":"0.2","x":134,"y":1124}]},"mark":{"type":"text","font":"DejaVu Sans","fontSize":33,"align":"center","baseline":"middle","color":"#333333"},"encoding":{"text":{"field":"t"}}},
{"data":{"values":[{"t":"Objective","x":72,"y":859}]},"mark":{"type":"text","font":"DejaVu Sans","fontSize":33,"angle":88,"align":"center","baseline":"middle","color":"#333333"},"encoding":{"text":{"field":"t"}}},
{"data":{"values":[{"x":520,"y":539}]},"mark":{"type":"point","filled":true,"fill":"#ff3300","stroke":"#000000","strokeWidth":2,"opacity":1,"size":1735}},
{"data":{"values":[
{"s":"9a","l":9,"x":5.66,"y":1.21},{"s":"9a","l":9,"x":7.16,"y":-0.36},{"s":"9a","l":9,"x":8.42,"y":-2.42},{"s":"9a","l":9,"x":9.3,"y":-4},{"s":"9a","l":9,"x":9.6,"y":-5.3},{"s":"9a","l":9,"x":8.9,"y":-6.2},{"s":"9a","l":9,"x":8.1,"y":-6.25},{"s":"9a","l":9,"x":6.36,"y":-5.64},{"s":"9a","l":9,"x":4.02,"y":-4.24},{"s":"9a","l":9,"x":1.68,"y":-2.6},{"s":"9a","l":9,"x":-0.19,"y":-0.95},{"s":"9a","l":9,"x":-1.26,"y":0.2},{"s":"9a","l":9,"x":-2.81,"y":2.06},{"s":"9a","l":9,"x":-3.84,"y":4.06},{"s":"9a","l":9,"x":-4.3,"y":5.76},{"s":"9a","l":9,"x":-3.8,"y":6.9},{"s":"9a","l":9,"x":-2.99,"y":7.15},{"s":"9a","l":9,"x":-2.2,"y":6.9},{"s":"9a","l":9,"x":0.14,"y":5.88},{"s":"9a","l":9,"x":2.48,"y":4.3},{"s":"9a","l":9,"x":4.21,"y":2.67},
{"s":"12a","l":12,"x":-3.04,"y":-0.06},{"s":"12a","l":12,"x":-5.33,"y":2.42},{"s":"12a","l":12,"x":-7.02,"y":5.27},{"s":"12a","l":12,"x":-8.24,"y":7.7},{"s":"12a","l":12,"x":-8.6,"y":9.4},{"s":"12a","l":12,"x":-8.0,"y":10.8},{"s":"12a","l":12,"x":-6.55,"y":11.35},{"s":"12a","l":12,"x":-4.4,"y":10.8},{"s":"12a","l":12,"x":-2.2,"y":9.7},{"s":"12a","l":12,"x":1.68,"y":7.21},{"s":"12a","l":12,"x":5.62,"y":3.84},{"s":"12a","l":12,"x":9.2,"y":0.1},{"s":"12a","l":12,"x":11.84,"y":-3.39},{"s":"12a","l":12,"x":13.2,"y":-6.06},{"s":"12a","l":12,"x":13.85,"y":-8.24},{"s":"12a","l":12,"x":13.55,"y":-9.5},{"s":"12a","l":12,"x":12.63,"y":-10.3},{"s":"12a","l":12,"x":11.7,"y":-10.4},{"s":"12a","l":12,"x":9.5,"y":-9.85},{"s":"12a","l":12,"x":7.16,"y":-8.75},{"s":"12a","l":12,"x":4.02,"y":-6.85},{"s":"12a","l":12,"x":0.94,"y":-4.4},{"s":"12a","l":12,"x":-1.36,"y":-2},
{"s":"15a","l":15,"x":8.94,"y":2.55},{"s":"15a","l":15,"x":11.7,"y":-0.79},{"s":"15a","l":15,"x":14.18,"y":-3.82},{"s":"15a","l":15,"x":16.19,"y":-7.27},{"s":"15a","l":15,"x":17.4,"y":-10.3},{"s":"15a","l":15,"x":17.65,"y":-11.8},{"s":"15a","l":15,"x":17.15,"y":-13.1},{"s":"15a","l":15,"x":15.91,"y":-13.85},{"s":"15a","l":15,"x":14.65,"y":-14.05},{"s":"15a","l":15,"x":12.63,"y":-13.55},{"s":"15a","l":15,"x":9.5,"y":-12.2},{"s":"15a","l":15,"x":6.36,"y":-10.4},{"s":"15a","l":15,"x":3.28,"y":-8.1},{"s":"15a","l":15,"x":0.14,"y":-5.6},{"s":"15a","l":15,"x":-2.2,"y":-3.3},{"s":"15a","l":15,"x":-4.63,"y":-0.79},{"s":"15a","l":15,"x":-8.28,"y":3.86},{"s":"15a","l":15,"x":-11.2,"y":8.12},{"s":"15a","l":15,"x":-12.4,"y":12.36},{"s":"15a","l":15,"x":-12.05,"y":14.0},{"s":"15a","l":15,"x":-9.83,"y":14.95},{"s":"15a","l":15,"x":-7.49,"y":14.6},{"s":"15a","l":15,"x":-4.4,"y":13.4},{"s":"15a","l":15,"x":-1.26,"y":11.4},{"s":"15a","l":15,"x":0.94,"y":9.9},{"s":"15a","l":15,"x":4.02,"y":7.29},{"s":"15a","l":15,"x":7.16,"y":4.36},
{"s":"18a","l":18,"x":19.5,"y":-8.97},{"s":"18a","l":18,"x":16.52,"y":-4.42},{"s":"18a","l":18,"x":13.8,"y":-0.79},{"s":"18a","l":18,"x":11.46,"y":1.94},
{"s":"18b","l":18,"x":9.64,"y":3.94},{"s":"18b","l":18,"x":5.62,"y":7.88},{"s":"18b","l":18,"x":1.68,"y":11.15},{"s":"18b","l":18,"x":-1.26,"y":13.15},{"s":"18b","l":18,"x":-5.94,"y":16},{"s":"18b","l":18,"x":-9.83,"y":17.8},{"s":"18b","l":18,"x":-12.63,"y":18.4},{"s":"18b","l":18,"x":-14.9,"y":18.1},{"s":"18b","l":18,"x":-15.9,"y":16.6},{"s":"18b","l":18,"x":-15.95,"y":15.39},{"s":"18b","l":18,"x":-15.44,"y":13.15},{"s":"18b","l":18,"x":-14.04,"y":9.7},{"s":"18b","l":18,"x":-11.42,"y":5.66},{"s":"18b","l":18,"x":-8.14,"y":1.35},{"s":"18b","l":18,"x":-6.74,"y":-0.49},{"s":"18b","l":18,"x":-2.2,"y":-5.13},{"s":"18b","l":18,"x":0.94,"y":-7.76},{"s":"18b","l":18,"x":4.02,"y":-10.28},{"s":"18b","l":18,"x":7.16,"y":-12.48},{"s":"18b","l":18,"x":10.29,"y":-14.55},{"s":"18b","l":18,"x":13.38,"y":-16.36},{"s":"18b","l":18,"x":16.52,"y":-17.37},{"s":"18b","l":18,"x":17.92,"y":-17.49},{"s":"18b","l":18,"x":19.5,"y":-17.15},
{"s":"21a","l":21,"x":-19.19,"y":19.4},{"s":"21a","l":21,"x":-19.28,"y":17.82},{"s":"21a","l":21,"x":-18.72,"y":15.39},{"s":"21a","l":21,"x":-17.5,"y":11.94},{"s":"21a","l":21,"x":-15.3,"y":8.12},{"s":"21a","l":21,"x":-12.17,"y":3.64},{"s":"21a","l":21,"x":-8.61,"y":-0.79},{"s":"21a","l":21,"x":-2.2,"y":-7.27},{"s":"21a","l":21,"x":2.01,"y":-10.79},
{"s":"21b","l":21,"x":3.98,"y":-12.42},{"s":"21b","l":21,"x":8.7,"y":-15.52},{"s":"21b","l":21,"x":13.38,"y":-18.18},{"s":"21b","l":21,"x":17.08,"y":-20},
{"s":"21c","l":21,"x":-8.28,"y":19.4},{"s":"21c","l":21,"x":-2.2,"y":15.76},{"s":"21c","l":21,"x":0.94,"y":13.64},{"s":"21c","l":21,"x":3.56,"y":11.52},
{"s":"21d","l":21,"x":5.43,"y":9.82},{"s":"21d","l":21,"x":10.29,"y":5.45},{"s":"21d","l":21,"x":13.38,"y":2.06},{"s":"21d","l":21,"x":16.85,"y":-1.88},{"s":"21d","l":21,"x":19.5,"y":-5.52},
{"s":"24a","l":24,"x":-20,"y":12.24},{"s":"24a","l":24,"x":-16.85,"y":7.88},{"s":"24a","l":24,"x":-13.76,"y":3.45},{"s":"24a","l":24,"x":-10.72,"y":-0.48},
{"s":"24b","l":24,"x":-8.89,"y":-2.48},{"s":"24b","l":24,"x":-1.26,"y":-9.88},{"s":"24b","l":24,"x":2.48,"y":-13.09},{"s":"24b","l":24,"x":7.16,"y":-16.97},{"s":"24b","l":24,"x":12.4,"y":-20},
{"s":"24c","l":24,"x":-4.68,"y":19.4},{"s":"24c","l":24,"x":-2.2,"y":17.7},{"s":"24c","l":24,"x":2.48,"y":14.18},{"s":"24c","l":24,"x":7.49,"y":9.82},
{"s":"24d","l":24,"x":9.41,"y":8.12},{"s":"24d","l":24,"x":13.38,"y":4.06},{"s":"24d","l":24,"x":17.69,"y":-0.79},{"s":"24d","l":24,"x":19.5,"y":-2.79},
{"s":"27a","l":27,"x":-20,"y":8.91},{"s":"27a","l":27,"x":-12.4,"y":-0.79},{"s":"27a","l":27,"x":-9.08,"y":-4.12},{"s":"27a","l":27,"x":-4.4,"y":-8.85},{"s":"27a","l":27,"x":-1.26,"y":-11.76},{"s":"27a","l":27,"x":0.51,"y":-13.33},
{"s":"27b","l":27,"x":2.48,"y":-14.91},{"s":"27b","l":27,"x":5.62,"y":-17.58},{"s":"27b","l":27,"x":9.36,"y":-20},
{"s":"27c","l":27,"x":-1.87,"y":19.4},{"s":"27c","l":27,"x":2.81,"y":15.76},
{"s":"27d","l":27,"x":4.68,"y":14.18},{"s":"27d","l":27,"x":10.29,"y":8.91},{"s":"27d","l":27,"x":14.97,"y":4.48},{"s":"27d","l":27,"x":19.5,"y":-0.61},
{"s":"30a","l":30,"x":-20,"y":6.18},{"s":"30a","l":30,"x":-14.27,"y":-0.79},{"s":"30a","l":30,"x":-10.86,"y":-4.42},
{"s":"30b","l":30,"x":-9.08,"y":-6.24},{"s":"30b","l":30,"x":-4.4,"y":-11.09},{"s":"30b","l":30,"x":-1.26,"y":-13.58},{"s":"30b","l":30,"x":2.48,"y":-16.73},{"s":"30b","l":30,"x":6.69,"y":-20},
{"s":"30c","l":30,"x":0.47,"y":19.4},{"s":"30c","l":30,"x":5.62,"y":14.97},{"s":"30c","l":30,"x":12.07,"y":9.39},
{"s":"30d","l":30,"x":13.85,"y":7.58},{"s":"30d","l":30,"x":19.5,"y":1.64},
{"s":"33a","l":33,"x":-20,"y":3.64},{"s":"33a","l":33,"x":-16.24,"y":-0.79},{"s":"33a","l":33,"x":-12.17,"y":-5.03},{"s":"33a","l":33,"x":-8.61,"y":-8.67},
{"s":"33b","l":33,"x":-6.79,"y":-10.48},{"s":"33b","l":33,"x":-2.2,"y":-14.6},{"s":"33b","l":33,"x":4.26,"y":-20},
{"s":"33c","l":33,"x":2.85,"y":19.4},{"s":"33c","l":33,"x":8.7,"y":14.18},{"s":"33c","l":33,"x":16.42,"y":6.91},
{"s":"33d","l":33,"x":18.25,"y":4.97},{"s":"33d","l":33,"x":19.5,"y":3.76},
{"s":"36a","l":36,"x":-20,"y":1.45},{"s":"36a","l":36,"x":-18.11,"y":-0.79},{"s":"36a","l":36,"x":-14.37,"y":-4.61},{"s":"36a","l":36,"x":-10.53,"y":-8.6},
{"s":"36b","l":36,"x":-8.75,"y":-10.48},{"s":"36b","l":36,"x":-1.26,"y":-17.21},{"s":"36b","l":36,"x":2.1,"y":-20},
{"s":"36c","l":36,"x":5.15,"y":19.4},{"s":"36c","l":36,"x":7.02,"y":17.7},
{"s":"36d","l":36,"x":8.94,"y":16},{"s":"36d","l":36,"x":14.18,"y":10.91},{"s":"36d","l":36,"x":19.5,"y":5.76},
{"s":"39a","l":39,"x":-20,"y":-0.79},{"s":"39a","l":39,"x":-15.3,"y":-5.64},{"s":"39a","l":39,"x":-8.38,"y":-12.73},
{"s":"39b","l":39,"x":-6.5,"y":-14.55},{"s":"39b","l":39,"x":-1.26,"y":-18.79},{"s":"39b","l":39,"x":-0.19,"y":-20},
{"s":"39c","l":39,"x":7.16,"y":19.4},{"s":"39c","l":39,"x":11.84,"y":15.09},{"s":"39c","l":39,"x":16.38,"y":10.85},
{"s":"39d","l":39,"x":18.16,"y":9.09},{"s":"39d","l":39,"x":19.5,"y":7.82},
{"s":"42a","l":42,"x":-20,"y":-2.79},{"s":"42a","l":42,"x":-13.76,"y":-9.09},{"s":"42a","l":42,"x":-5.48,"y":-17.15},
{"s":"42b","l":42,"x":-3.6,"y":-18.85},{"s":"42b","l":42,"x":-2.29,"y":-20},
{"s":"42c","l":42,"x":9.17,"y":19.4},{"s":"42c","l":42,"x":11.6,"y":17.27},
{"s":"42d","l":42,"x":13.38,"y":15.58},{"s":"42d","l":42,"x":19.5,"y":9.7},
{"s":"45a","l":45,"x":-20,"y":-4.91},{"s":"45a","l":45,"x":-13.76,"y":-11.09},{"s":"45a","l":45,"x":-7.49,"y":-17.15},
{"s":"45b","l":45,"x":-5.62,"y":-18.85},{"s":"45b","l":45,"x":-4.31,"y":-20},
{"s":"45c","l":45,"x":11.28,"y":19.4},{"s":"45c","l":45,"x":16.14,"y":14.85},
{"s":"45d","l":45,"x":17.92,"y":13.03},{"s":"45d","l":45,"x":19.5,"y":11.64},
{"s":"48a","l":48,"x":-20,"y":-6.85},{"s":"48a","l":48,"x":-15.3,"y":-12.3},{"s":"48a","l":48,"x":-9.45,"y":-17.15},
{"s":"48b","l":48,"x":-7.58,"y":-18.97},{"s":"48b","l":48,"x":-6.41,"y":-20},
{"s":"48c","l":48,"x":13.24,"y":19.4},{"s":"48c","l":48,"x":14.55,"y":18.18},
{"s":"48d","l":48,"x":16.38,"y":16.48},{"s":"48d","l":48,"x":19.5,"y":13.45},
{"s":"51a","l":51,"x":-20,"y":-8.85},{"s":"51a","l":51,"x":-16.1,"y":-12.91},{"s":"51a","l":51,"x":-11.42,"y":-17.15},
{"s":"51b","l":51,"x":-9.55,"y":-18.97},{"s":"51b","l":51,"x":-8.42,"y":-20},
{"s":"51c","l":51,"x":15.26,"y":19.4},{"s":"51c","l":51,"x":16.38,"y":18.42},
{"s":"51d","l":51,"x":18.16,"y":16.6},{"s":"51d","l":51,"x":19.5,"y":15.39},
{"s":"54a","l":54,"x":-20,"y":-10.79},{"s":"54a","l":54,"x":-13.43,"y":-17.15},
{"s":"54b","l":54,"x":-11.56,"y":-18.97},{"s":"54b","l":54,"x":-10.48,"y":-20},
{"s":"54c","l":54,"x":19,"y":17.58},{"s":"54c","l":54,"x":19.5,"y":17.21},
{"s":"57a","l":57,"x":-20,"y":-12.73},{"s":"57a","l":57,"x":-15.4,"y":-17.15},
{"s":"57b","l":57,"x":-13.57,"y":-18.85},{"s":"57b","l":57,"x":-12.35,"y":-20},
{"s":"57c","l":57,"x":19.23,"y":19.4},{"s":"57c","l":57,"x":19.5,"y":19.09},
{"s":"60a","l":60,"x":-20,"y":-14.61},{"s":"60a","l":60,"x":-17.41,"y":-17.03},
{"s":"60b","l":60,"x":-15.63,"y":-18.85},{"s":"60b","l":60,"x":-14.27,"y":-20},
{"s":"63a","l":63,"x":-20,"y":-16.55},{"s":"63a","l":63,"x":-19.19,"y":-17.15},
{"s":"63b","l":63,"x":-17.41,"y":-18.97},{"s":"63b","l":63,"x":-16.24,"y":-20},
{"s":"66a","l":66,"x":-18.34,"y":-19.88},{"s":"66a","l":66,"x":-18.2,"y":-20}]},
"mark":{"type":"line","strokeWidth":2.6,"interpolate":"basis"},
"encoding":{"order":{"value":null},"detail":{"field":"s"},
"x":{"field":"x","type":"quantitative","title":"u[0]","scale":{"domain":[-20,19.5],"range":[1161,2004],"nice":false,"zero":false},"axis":{"orient":"bottom","offset":-577,"values":[-20,-15,-10,-5,0,5,10,15],"grid":false,"labelFlush":false,"tickSize":-8,"tickColor":"#666666","tickWidth":1.5,"domainColor":"#6e6e6e","domainWidth":2.5,"labelFontSize":21,"labelColor":"#333333","labelPadding":16,"labelFont":"DejaVu Sans","titleFont":"DejaVu Sans","titleFontSize":22,"titleFontWeight":"normal","titleColor":"#333333","titlePadding":13}},
"y":{"field":"y","type":"quantitative","title":"u[1]","scale":{"domain":[-20,19.5],"range":[959,307],"nice":false,"zero":false},"axis":{"orient":"left","offset":-1161,"values":[-20,-15,-10,-5,0,5,10,15],"grid":false,"labelFlush":false,"tickSize":-8,"tickColor":"#666666","tickWidth":1.5,"domainColor":"#6e6e6e","domainWidth":2.5,"labelFontSize":21,"labelColor":"#333333","labelPadding":14,"labelFont":"DejaVu Sans","titleFont":"DejaVu Sans","titleFontSize":22,"titleFontWeight":"normal","titleColor":"#333333","titlePadding":14}},
"color":{"field":"l","type":"ordinal","legend":null,"scale":{"domain":[9,12,15,18,21,24,27,30,33,36,39,42,45,48,51,54,57,60,63,66],"range":["#55558f","#4a4ab0","#5048d8","#5a5ae8","#5a85ea","#5aa5f0","#50c4f2","#50e2e2","#60f0cc","#88f0a8","#aef088","#d4f068","#f0f058","#f8cc58","#f8ac58","#f89468","#f07868","#e86060","#d85868","#b04858"]}}}},
{"data":{"values":[{"x":4.96,"y":2.06,"l":9},{"x":-2.1,"y":-0.97,"l":12},{"x":8.19,"y":3.45,"l":15},{"x":10.67,"y":3.03,"l":18},{"x":4.49,"y":10.6,"l":21},{"x":3.04,"y":-11.58,"l":21},{"x":8.56,"y":9.03,"l":24},{"x":-9.69,"y":-1.5,"l":24},{"x":3.79,"y":14.97,"l":27},{"x":1.54,"y":-14.12,"l":27},{"x":13.1,"y":8.48,"l":30},{"x":-9.92,"y":-5.45,"l":30},{"x":17.45,"y":6,"l":33},{"x":-7.67,"y":-9.58,"l":33},{"x":8,"y":16.79,"l":36},{"x":-9.59,"y":-9.58,"l":36},{"x":17.31,"y":9.94,"l":39},{"x":-7.35,"y":-13.52,"l":39},{"x":12.63,"y":16.36,"l":42},{"x":-4.4,"y":-18.06,"l":42},{"x":17.13,"y":13.94,"l":45},{"x":-6.5,"y":-18.06,"l":45},{"x":15.58,"y":17.21,"l":48},{"x":-8.38,"y":-18.18,"l":48},{"x":17.31,"y":17.52,"l":51},{"x":-10.62,"y":-17.88,"l":51},{"x":18.25,"y":18.6,"l":54},{"x":-12.4,"y":-18.06,"l":54},{"x":-14.46,"y":-17.94,"l":57},{"x":-16.38,"y":-17.94,"l":60},{"x":-18.2,"y":-18.06,"l":63},{"x":-19.14,"y":-19.09,"l":66}]},
"mark":{"type":"text","font":"DejaVu Sans","fontSize":16,"angle":35,"align":"center","baseline":"middle"},
"encoding":{"text":{"field":"l"},
"x":{"field":"x","type":"quantitative","title":"RMSE","scale":{"domain":[-20,19.5],"range":[1161,2004],"nice":false,"zero":false},"axis":{"orient":"top","offset":-307,"values":[-20,-15,-10,-5,0,5,10,15],"grid":false,"labels":false,"tickSize":-8,"tickColor":"#666666","tickWidth":1.5,"domainColor":"#6e6e6e","domainWidth":2.5,"titleFont":"DejaVu Sans","titleFontSize":26,"titleFontWeight":"normal","titleColor":"#333333","titlePadding":6}},
"y":{"field":"y","type":"quantitative","title":null,"scale":{"domain":[-20,19.5],"range":[959,307],"nice":false,"zero":false},"axis":{"orient":"right","offset":-44,"values":[-20,-15,-10,-5,0,5,10,15],"grid":false,"labels":false,"tickSize":-8,"tickColor":"#666666","tickWidth":1.5,"domainColor":"#6e6e6e","domainWidth":2.5}},
"color":{"field":"l","type":"ordinal","legend":null,"scale":{"domain":[9,12,15,18,21,24,27,30,33,36,39,42,45,48,51,54,57,60,63,66],"range":["#55558f","#4a4ab0","#5048d8","#5a5ae8","#5a85ea","#5aa5f0","#50c4f2","#50e2e2","#60f0cc","#88f0a8","#aef088","#d4f068","#f0f058","#f8cc58","#f8ac58","#f89468","#f07868","#e86060","#d85868","#b04858"]}}}},
{"data":{"values":[{"x":-9.41,"y":-19}]},"mark":{"type":"point","filled":true,"fill":"#ff3300","stroke":"#000000","strokeWidth":2,"opacity":1,"size":1735},
"encoding":{"x":{"field":"x","type":"quantitative","scale":{"domain":[-20,19.5],"range":[1161,2004],"nice":false,"zero":false},"axis":null},"y":{"field":"y","type":"quantitative","scale":{"domain":[-20,19.5],"range":[959,307],"nice":false,"zero":false},"axis":null}}}
]}
